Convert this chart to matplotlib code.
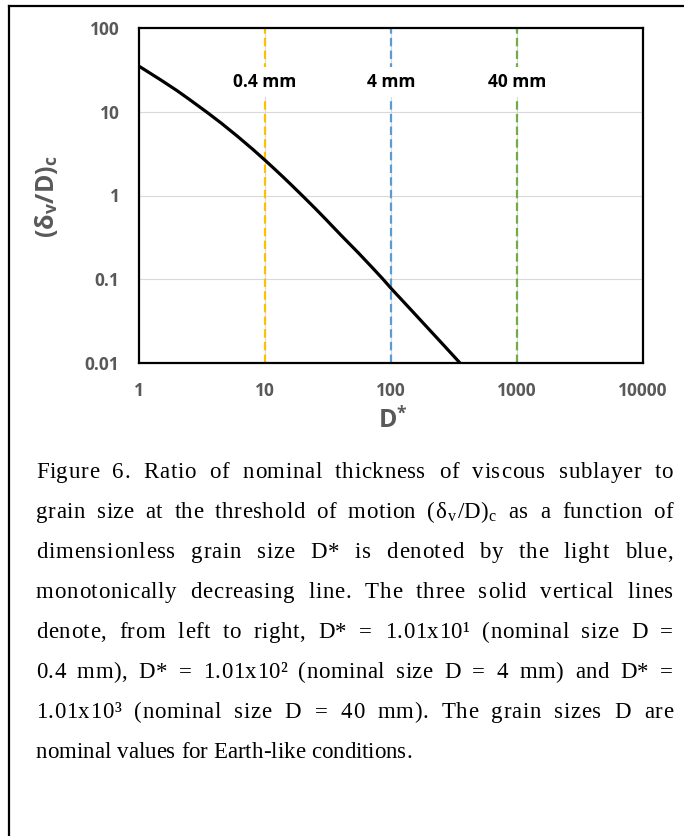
import matplotlib
matplotlib.use("Agg")
import matplotlib.pyplot as plt
from matplotlib.lines import Line2D

plt.rcParams['mathtext.fontset'] = 'custom'
plt.rcParams['mathtext.rm'] = 'Liberation Serif'
plt.rcParams['mathtext.it'] = 'Liberation Serif:italic'
plt.rcParams['mathtext.bf'] = 'Open Sans:bold'

# curve
d_star = [1, 1.5, 2, 2.5, 3.45, 4.5, 6, 8, 10, 12, 14, 16, 20, 25, 30, 40,
          55, 70, 86, 100, 130, 160, 200, 250, 353]
ratio = [35, 23.8, 17.9, 14.1, 9.9, 7.3, 5.14, 3.56, 2.64, 2.05, 1.65, 1.36,
         0.98, 0.702, 0.530, 0.337, 0.207, 0.141, 0.101, 0.078, 0.051, 0.0364,
         0.0253, 0.0176, 0.01]

# vertical markers
mark_x = [10, 100, 1000]
mark_labels = ['0.4 mm', '4 mm', '40 mm']
mark_colors = ['#FFC000', '#5B9BD5', '#70AD47']

x_ticks = [1, 10, 100, 1000, 10000]
x_ticklabels = ['1', '10', '100', '1000', '10000']
y_ticks = [0.01, 0.1, 1, 10, 100]
y_ticklabels = ['0.01', '0.1', '1', '10', '100']

caption_lines = [
    "Figure 6. Ratio of nominal thickness of viscous sublayer to",
    "grain size at the threshold of motion (\u03b4$_{\\mathrm{v}}$/D)$_{\\mathrm{c}}$ as a function of",
    "dimensionless grain size D* is denoted by the light blue,",
    "monotonically decreasing line. The three solid vertical lines",
    "denote, from left to right, D* = 1.01x10\u00b9 (nominal size D =",
    "0.4 mm), D* = 1.01x10\u00b2 (nominal size D = 4 mm) and D* =",
    "1.01x10\u00b3 (nominal size D = 40 mm). The grain sizes D are",
    "nominal values for Earth-like conditions.",
]

SANS = 'Open Sans'
SERIF = 'Liberation Serif'
CAP_SIZE = 16.5

W, H = 684, 836
fig = plt.figure(figsize=(W / 100, H / 100), dpi=100)
ax = fig.add_axes([139 / W, 1 - 363 / H, (643 - 139) / W, (363 - 28) / H])

ax.set_xscale('log')
ax.set_yscale('log')
ax.set_xlim(1, 10000)
ax.set_ylim(0.01, 100)

for yv in y_ticks[1:-1]:
    ax.axhline(yv, color='#D9D9D9', lw=0.8, zorder=1)
for xv in mark_x:
    ax.axvline(xv, color='#D9D9D9', lw=0.8, zorder=1)

for xv, c in zip(mark_x, mark_colors):
    ax.plot([xv, xv], [0.01, 100], color=c, lw=1.6, dashes=(3.8, 1.9), zorder=2)

ax.plot(d_star, ratio, color='black', lw=2.3, zorder=4, solid_joinstyle='round')

for xv, lab in zip(mark_x, mark_labels):
    ax.text(xv, 22.6, lab, ha='center', va='center', fontsize=12.5, fontweight='bold',
            family=SANS, color='black', zorder=3,
            bbox=dict(boxstyle='square,pad=0.35', fc='white', ec='none'))

ax.set_xticks(x_ticks)
ax.set_xticklabels(x_ticklabels)
ax.set_yticks(y_ticks)
ax.set_yticklabels(y_ticklabels)
ax.minorticks_off()
ax.tick_params(length=0, labelsize=12.5, labelcolor='#595959')
ax.tick_params(axis='y', pad=14)
ax.tick_params(axis='x', pad=14)
for t in ax.get_xticklabels() + ax.get_yticklabels():
    t.set_fontweight('bold')
    t.set_family(SANS)

for s in ax.spines.values():
    s.set_color('black')
    s.set_linewidth(1.6)
    s.set_zorder(5)

fig.text(46 / W, 1 - 197 / H, '(\u03b4$_{\\bf v}$/D)$_{\\bf c}$', rotation=90,
         ha='center', va='center', fontsize=18, fontweight='bold', family=SANS, color='#595959')
fig.text(393 / W, 1 - 420 / H, '$\\mathbf{D}^{\\mathbf{*}}$', ha='center', va='center',
         fontsize=18, color='#595959')

# outer frame
fig.add_artist(Line2D([9 / W, 1], [1 - 6 / H, 1 - 6 / H], color='black', lw=1.6))
fig.add_artist(Line2D([9 / W, 9 / W], [1 - 6 / H, 0], color='black', lw=1.6))


def tokens(s):
    out = []
    i = 0
    while i < len(s):
        if s[i] == '$':
            j = s.index('$', i + 1)
            out.append(s[i:j + 1])
            i = j + 1
        else:
            out.append(s[i])
            i += 1
    return out


renderer = fig.canvas.get_renderer()
probe = fig.text(0, 0, 'a', fontsize=CAP_SIZE, family=SERIF)


def width(s):
    probe.set_text(s)
    return probe.get_window_extent(renderer).width


sp_w = width('a b') - width('ab')

# justified caption, slack goes mostly to word gaps
x0, x1 = 36, 673
base0, step = 478, 40
WORD_WEIGHT = 12
for i, line in enumerate(caption_lines):
    y = 1 - (base0 + i * step) / H
    words = [tokens(w) for w in line.split(' ')]
    word_w = [width(''.join(tk)) for tk in words]
    offsets = []
    for tk in words:
        offs = [0.0]
        for k in range(1, len(tk)):
            offs.append(width(''.join(tk[:k + 1])) - width(tk[k]))
        offsets.append(offs)
    natural = sum(word_w) + sp_w * (len(words) - 1)
    n_letter = sum(len(tk) - 1 for tk in words)
    n_sp = len(words) - 1
    if i == len(caption_lines) - 1:
        unit = 0.0
    else:
        unit = (x1 - x0 - natural) / (n_letter + WORD_WEIGHT * n_sp)
    xp = x0
    for tk, ww, offs in zip(words, word_w, offsets):
        for k, (t, o) in enumerate(zip(tk, offs)):
            fig.text((xp + o + unit * k) / W, y, t, ha='left', va='baseline',
                     fontsize=CAP_SIZE, family=SERIF, color='black')
        xp += ww + unit * (len(tk) - 1) + sp_w + WORD_WEIGHT * unit

probe.remove()
fig.savefig('out.png', dpi=100)
